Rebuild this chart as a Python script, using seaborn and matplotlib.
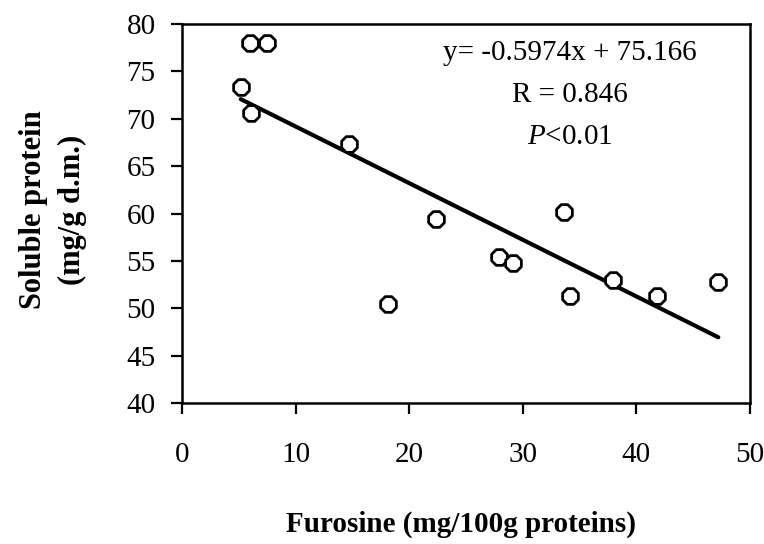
import matplotlib
matplotlib.use("Agg")
import matplotlib.pyplot as plt
import numpy as np
import pandas as pd
import seaborn as sns

# Data
furosine = [5.99, 7.46, 5.17, 6.07, 14.70, 22.33, 18.11, 33.63, 27.90, 29.16, 34.15, 37.97, 41.79, 47.21]
soluble_protein = [78.0, 78.0, 73.35, 70.58, 67.34, 59.40, 50.46, 60.14, 55.39, 54.76, 51.36, 53.03, 51.34, 52.81]
slope = -0.5974
intercept = 75.166
x_ticks = [0, 10, 20, 30, 40, 50]
y_ticks = [40, 45, 50, 55, 60, 65, 70, 75, 80]
eq_lines = ["y= -0.5974x + 75.166", "R = 0.846", r"$\it{P}$<0.01"]

sns.set_theme(style="white")
plt.rcParams['font.family'] = ['Liberation Serif', 'DejaVu Serif']
plt.rcParams['mathtext.fontset'] = 'custom'
plt.rcParams['mathtext.it'] = 'Liberation Serif:italic'
plt.rcParams['mathtext.rm'] = 'Liberation Serif'
plt.rcParams['text.color'] = 'black'
plt.rcParams['axes.labelcolor'] = 'black'
plt.rcParams['xtick.color'] = 'black'
plt.rcParams['ytick.color'] = 'black'

df = pd.DataFrame({"x": furosine, "y": soluble_protein})

fig = plt.figure(figsize=(7.64, 5.44), dpi=100)
ax = fig.add_axes([182/764, (544-403.3)/544, (750-182)/764, (403.3-24)/544])

sns.scatterplot(data=df, x="x", y="y", ax=ax, marker="8", s=150,
                facecolor="white", edgecolor="black", linewidth=2.0, zorder=3)

xs = np.array([min(furosine), max(furosine)])
ax.plot(xs, slope * xs + intercept, color="black", linewidth=3.0, zorder=2)

ax.set_xlim(0, 50)
ax.set_ylim(40, 80)
ax.set_xticks(x_ticks)
ax.set_yticks(y_ticks)
ax.set_xticklabels([str(t) for t in x_ticks], fontsize=21)
ax.set_yticklabels([str(t) for t in y_ticks], fontsize=21)
ax.tick_params(axis="both", direction="out", length=8, width=1.6, colors="black",
               bottom=True, left=True)
ax.tick_params(axis="x", pad=20)
ax.tick_params(axis="y", pad=11)
for sp in ax.spines.values():
    sp.set_color("black")
    sp.set_linewidth(1.8)

ax.set_xlabel("Furosine (mg/100g proteins)", fontsize=21, fontweight="bold")
ax.xaxis.set_label_coords(0.491, -0.283)
ax.set_ylabel("Soluble protein\n(mg/g d.m.)", fontsize=22, fontweight="bold",
              linespacing=1.45)
ax.yaxis.set_label_coords(-0.167, 0.51)

text_y = [76.94, 72.51, 68.08]
for t, yy in zip(eq_lines, text_y):
    ax.text(34.15, yy, t, fontsize=21, ha="center", va="center", color="black")

fig.savefig("out.png", dpi=100)
